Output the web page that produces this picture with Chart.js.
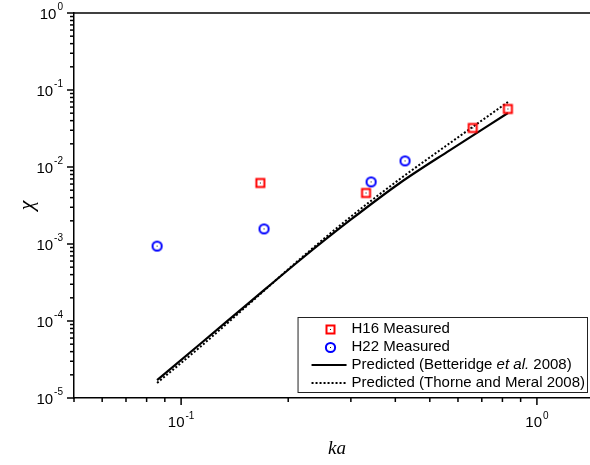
<!DOCTYPE html>
<html>
<head>
<meta charset="utf-8">
<script src="https://cdn.jsdelivr.net/npm/chart.js@4.4.0/dist/chart.umd.min.js"></script>
<style>
html, body { margin: 0; padding: 0; background: #fff; overflow: hidden; }
canvas { display: block; }
</style>
</head>
<body>
<canvas id="chart" width="590" height="465"></canvas>
<script>
// Measured points (ka, chi)
const h16Ka = [0.167, 0.331, 0.660, 0.829];
const h16Chi = [0.0062, 0.0046, 0.0321, 0.0567];
const h22Ka = [0.0856, 0.171, 0.342, 0.426];
const h22Chi = [0.00094, 0.00157, 0.0064, 0.0120];

// Predicted curves
const betteridgeKa = [0.0856, 0.1131, 0.1563, 0.216, 0.299, 0.412, 0.570, 0.829];
const betteridgeChi = [1.71e-5, 5.03e-5, 1.77e-4, 6.2e-4, 2.05e-3, 6.2e-3, 0.0166, 0.0502];
const thorneKa = [0.0856, 0.1131, 0.1563, 0.216, 0.299, 0.412, 0.570, 0.829];
const thorneChi = [1.57e-5, 4.6e-5, 1.71e-4, 6.4e-4, 2.24e-3, 6.98e-3, 0.0205, 0.0698];

const seriesLabels = ['H16 Measured', 'H22 Measured', 'Predicted (Betteridge et al. 2008)', 'Predicted (Thorne and Meral 2008)'];
const xRange = [0.05, 1.41];
const yRange = [1e-5, 1];
const xTitle = 'ka';
const yTitle = 'χ';

const SANS = "'Liberation Sans', Arial, sans-serif";
const SERIF = "'Liberation Serif', 'Times New Roman', serif";

function toPoints(xs, ys) {
    return xs.map((x, i) => ({ x: x, y: ys[i] }));
}

// marker with a small dot in the middle
function makeMarker(shape, color) {
    const c = document.createElement('canvas');
    c.width = 13; c.height = 13;
    const g = c.getContext('2d');
    g.strokeStyle = color;
    g.lineWidth = 2;
    if (shape === 'square') {
        g.strokeRect(2.5, 2.5, 8, 8);
    } else {
        g.beginPath();
        g.arc(6.5, 6.5, 4.6, 0, Math.PI * 2);
        g.stroke();
    }
    g.fillStyle = '#111';
    g.fillRect(6, 6, 1, 1);
    return c;
}

const redSquare = makeMarker('square', '#f00');
const blueCircle = makeMarker('circle', '#00f');

// 1..9 x 10^n ticks inside a range
function decadeTicks(min, max) {
    const out = [];
    for (let e = Math.floor(Math.log10(min)); e <= Math.ceil(Math.log10(max)); e++) {
        for (let k = 1; k <= 9; k++) {
            const v = k * Math.pow(10, e);
            if (v >= min * 0.999 && v <= max * 1.001) out.push({ v: v, major: k === 1, e: e });
        }
    }
    return out;
}

function drawPow(ctx, exp, x, y, align) {
    ctx.textBaseline = 'middle';
    ctx.textAlign = 'left';
    ctx.font = '15px ' + SANS;
    const wBase = ctx.measureText('10').width;
    ctx.font = '10px ' + SANS;
    const wExp = ctx.measureText(String(exp)).width;
    const total = wBase + wExp + 1;
    let left = x;
    if (align === 'right') left = x - total;
    if (align === 'center') left = x - total / 2;
    ctx.font = '15px ' + SANS;
    ctx.fillText('10', left, y);
    ctx.font = '10px ' + SANS;
    ctx.fillText(String(exp), left + wBase + 1, y - 7);
}

const axesPlugin = {
    id: 'axesPlugin',
    afterDraw(chart) {
        const ctx = chart.ctx;
        const area = chart.chartArea;
        const xs = chart.scales.x;
        const ys = chart.scales.y;
        ctx.save();
        ctx.strokeStyle = '#000';
        ctx.fillStyle = '#000';

        // top border
        ctx.lineWidth = 1.5;
        ctx.beginPath();
        ctx.moveTo(area.left - 0.75, area.top);
        ctx.lineTo(area.right, area.top);
        ctx.stroke();

        // x ticks
        ctx.lineWidth = 1.5;
        decadeTicks(xRange[0], xRange[1]).forEach(t => {
            const px = xs.getPixelForValue(t.v);
            ctx.beginPath();
            ctx.moveTo(px, area.bottom);
            ctx.lineTo(px, area.bottom + (t.major ? 7 : 4));
            ctx.stroke();
            if (t.major) drawPow(ctx, t.e, px, area.bottom + 25, 'center');
        });

        // y ticks
        decadeTicks(yRange[0], yRange[1]).forEach(t => {
            const py = ys.getPixelForValue(t.v);
            ctx.beginPath();
            ctx.moveTo(area.left, py);
            ctx.lineTo(area.left - (t.major ? 7 : 4), py);
            ctx.stroke();
            if (t.major) drawPow(ctx, t.e, area.left - 11, py + 1.5, 'right');
        });

        // axis titles
        ctx.font = 'italic 19px ' + SERIF;
        ctx.textAlign = 'center';
        ctx.textBaseline = 'middle';
        ctx.fillText(xTitle, (area.left + area.right) / 2 + 5, area.bottom + 51);
        ctx.save();
        ctx.translate(27, (area.top + area.bottom) / 2);
        ctx.rotate(-Math.PI / 2);
        ctx.font = 'italic 22px ' + SERIF;
        ctx.fillText(yTitle, 0, 0);
        ctx.restore();

        // legend
        const parts = seriesLabels.map(l => l.split(/(et al\.)/).filter(s => s.length).map(s => ({ t: s, it: s === 'et al.' })));
        const widths = parts.map(p => p.reduce((w, s) => {
            ctx.font = (s.it ? 'italic ' : '') + '15px ' + SANS;
            return w + ctx.measureText(s.t).width;
        }, 0));
        const maxW = Math.max.apply(null, widths);
        const boxRight = area.right - 2;
        const boxLeft = boxRight - maxW - 57;
        const boxBottom = area.bottom - 5;
        const boxTop = boxBottom - 76;
        ctx.fillStyle = '#fff';
        ctx.fillRect(boxLeft, boxTop, boxRight - boxLeft, boxBottom - boxTop);
        ctx.strokeStyle = '#222';
        ctx.lineWidth = 1;
        ctx.strokeRect(boxLeft + 0.5, boxTop + 0.5, boxRight - boxLeft - 1, boxBottom - boxTop - 1);

        const textX = boxLeft + 54;
        const symX = boxLeft + 33;
        chart.data.datasets.forEach((ds, i) => {
            const rowY = boxTop + 12 + i * 18;
            if (ds.showLine) {
                ctx.save();
                ctx.strokeStyle = '#000';
                ctx.lineWidth = ds.borderWidth;
                ctx.setLineDash(ds.borderDash || []);
                ctx.beginPath();
                ctx.moveTo(boxLeft + 14, rowY);
                ctx.lineTo(boxLeft + 49, rowY);
                ctx.stroke();
                ctx.restore();
            } else {
                const img = ds.pointStyle;
                ctx.drawImage(img, Math.round(symX - img.width / 2), Math.round(rowY - img.height / 2));
            }
            ctx.fillStyle = '#000';
            ctx.textAlign = 'left';
            ctx.textBaseline = 'middle';
            let x = textX;
            parts[i].forEach(s => {
                ctx.font = (s.it ? 'italic ' : '') + '15px ' + SANS;
                ctx.fillText(s.t, x, rowY);
                x += ctx.measureText(s.t).width;
            });
        });
        ctx.restore();
    }
};

new Chart(document.getElementById('chart'), {
    type: 'scatter',
    data: {
        datasets: [{
            label: seriesLabels[0],
            data: toPoints(h16Ka, h16Chi),
            pointStyle: redSquare,
            showLine: false
        }, {
            label: seriesLabels[1],
            data: toPoints(h22Ka, h22Chi),
            pointStyle: blueCircle,
            showLine: false
        }, {
            label: seriesLabels[2],
            data: toPoints(betteridgeKa, betteridgeChi),
            showLine: true,
            borderColor: '#000',
            borderWidth: 2.2,
            pointRadius: 0,
            cubicInterpolationMode: 'monotone'
        }, {
            label: seriesLabels[3],
            data: toPoints(thorneKa, thorneChi),
            showLine: true,
            borderColor: '#000',
            borderWidth: 2,
            borderDash: [2, 2],
            pointRadius: 0,
            cubicInterpolationMode: 'monotone'
        }]
    },
    options: {
        responsive: false,
        animation: false,
        devicePixelRatio: 1,
        layout: { autoPadding: false, padding: { top: 13, right: 0, left: 0, bottom: 0 } },
        plugins: {
            legend: { display: false },
            tooltip: { enabled: false }
        },
        scales: {
            x: {
                type: 'logarithmic',
                min: xRange[0],
                max: xRange[1],
                grid: { display: false },
                ticks: { display: false },
                border: { display: true, color: '#000', width: 1.5 },
                afterFit: s => { s.height = 67; }
            },
            y: {
                type: 'logarithmic',
                min: yRange[0],
                max: yRange[1],
                grid: { display: false },
                ticks: { display: false },
                border: { display: true, color: '#000', width: 1.5 },
                afterFit: s => { s.width = 74; }
            }
        }
    },
    plugins: [axesPlugin]
});
</script>
</body>
</html>
